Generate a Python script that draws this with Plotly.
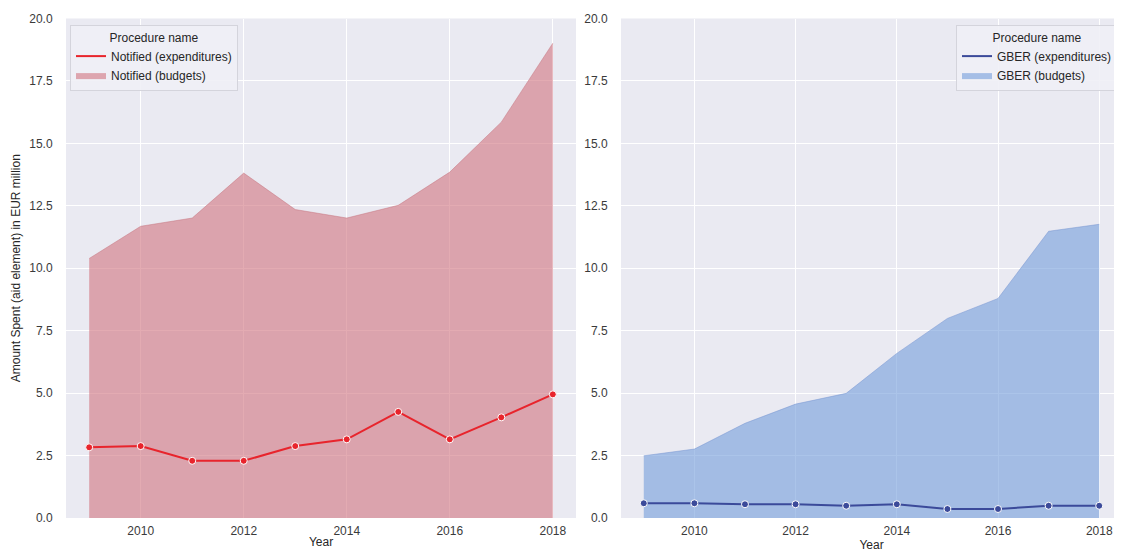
import plotly.graph_objects as go

years = [2009, 2010, 2011, 2012, 2013, 2014, 2015, 2016, 2017, 2018]
notified_exp = [2.83, 2.88, 2.29, 2.29, 2.88, 3.15, 4.25, 3.15, 4.03, 4.95]
notified_bud = [10.39, 11.68, 12.01, 13.81, 12.35, 12.01, 12.52, 13.85, 15.85, 19.01]
gber_exp = [0.59, 0.59, 0.55, 0.55, 0.49, 0.55, 0.36, 0.36, 0.49, 0.49]
gber_bud = [2.49, 2.76, 3.79, 4.56, 4.99, 6.59, 7.99, 8.79, 11.48, 11.76]
x_ticks = [2010, 2012, 2014, 2016, 2018]
y_ticks = [0, 2.5, 5, 7.5, 10, 12.5, 15, 17.5, 20]

RED = "#e8242c"
RED_FILL = "rgba(210,120,130,0.62)"
BLUE = "#3b4a9a"
BLUE_FILL = "rgba(120,160,220,0.62)"
FONT = "Liberation Sans, Arial, sans-serif"

fig = go.Figure()

# Left panel
fig.add_trace(go.Scatter(x=years, y=notified_bud, fill="tozeroy", mode="lines",
                         line=dict(color="rgba(200,120,130,0.5)", width=1),
                         fillcolor=RED_FILL, showlegend=False, xaxis="x", yaxis="y",
                         hoverinfo="skip"))
fig.add_trace(go.Scatter(x=years, y=notified_exp, mode="lines+markers",
                         line=dict(color=RED, width=2),
                         marker=dict(color=RED, size=7, line=dict(color="white", width=1)),
                         showlegend=False, xaxis="x", yaxis="y"))
fig.add_trace(go.Scatter(x=[None], y=[None], mode="lines", name="Notified (expenditures)",
                         line=dict(color=RED, width=2), legend="legend", xaxis="x", yaxis="y"))
fig.add_trace(go.Scatter(x=[None], y=[None], mode="lines", fill="tozeroy", name="Notified (budgets)",
                         line=dict(color="rgba(0,0,0,0)", width=0), fillcolor=RED_FILL,
                         legend="legend", xaxis="x", yaxis="y"))

# Right panel
fig.add_trace(go.Scatter(x=years, y=gber_bud, fill="tozeroy", mode="lines",
                         line=dict(color="rgba(120,150,210,0.5)", width=1),
                         fillcolor=BLUE_FILL, showlegend=False, xaxis="x2", yaxis="y2",
                         hoverinfo="skip"))
fig.add_trace(go.Scatter(x=years, y=gber_exp, mode="lines+markers",
                         line=dict(color=BLUE, width=2),
                         marker=dict(color=BLUE, size=7, line=dict(color="white", width=1)),
                         showlegend=False, xaxis="x2", yaxis="y2"))
fig.add_trace(go.Scatter(x=[None], y=[None], mode="lines", name="GBER (expenditures)",
                         line=dict(color=BLUE, width=2), legend="legend2", xaxis="x2", yaxis="y2"))
fig.add_trace(go.Scatter(x=[None], y=[None], mode="lines", fill="tozeroy", name="GBER (budgets)",
                         line=dict(color="rgba(0,0,0,0)", width=0), fillcolor=BLUE_FILL,
                         legend="legend2", xaxis="x2", yaxis="y2"))

# page has an 8px body margin: figure drawn in a 1114x545 area offset by 8px
OFF = 8
W, H = 1122 - OFF, 553 - OFF
def px(v):
    return (v - OFF) / W
def py(v):
    return 1 - (v - OFF) / H

tickfont = dict(size=12, color="#3a3a3a", family=FONT)
grid = dict(showgrid=True, gridcolor="white", gridwidth=1, zeroline=False, showline=False,
            tickfont=tickfont, ticks="outside", tickcolor="rgba(0,0,0,0)", automargin=False)

legend_common = dict(bgcolor="rgba(240,240,246,0.9)", bordercolor="#d4d4dc", borderwidth=1,
                     font=dict(size=12, color="#262626", family=FONT),
                     title=dict(text="Procedure name", side="top center",
                                font=dict(size=12, color="#262626", family=FONT)),
                     tracegroupgap=0, itemwidth=30)

title_font = dict(size=12, color="#262626", family=FONT)

fig.update_layout(
    width=W, height=H,
    margin=dict(l=0, r=0, t=0, b=0),
    paper_bgcolor="white",
    plot_bgcolor="#EAEAF2",
    font=dict(family=FONT, color="#333333"),
    xaxis=dict(domain=[px(66), px(576)], range=[2008.55, 2018.45], tickvals=x_ticks,
               anchor="y", ticklen=2, title=dict(text="Year", font=title_font, standoff=0), **grid),
    yaxis=dict(domain=[py(518), py(18.5)], range=[0, 20], tickvals=y_ticks,
               ticktext=[f"{v:.1f}" for v in y_ticks], anchor="x", ticklen=10,
               title=dict(text="Amount Spent (aid element) in EUR million",
                          font=title_font, standoff=6), **grid),
    xaxis2=dict(domain=[px(621), 1.0], range=[2008.55, 2018.45], tickvals=x_ticks,
                anchor="y2", ticklen=2, title=dict(text="Year", font=title_font, standoff=0), **grid),
    yaxis2=dict(domain=[py(518), py(18.5)], range=[0, 20], tickvals=y_ticks,
                ticktext=[f"{v:.1f}" for v in y_ticks], anchor="x2", ticklen=10, **grid),
    legend=dict(x=px(70), y=py(25), xanchor="left", yanchor="top", **legend_common),
    legend2=dict(x=px(1118), y=py(25), xanchor="right", yanchor="top", **legend_common),
)

fig.write_html("out.html")
